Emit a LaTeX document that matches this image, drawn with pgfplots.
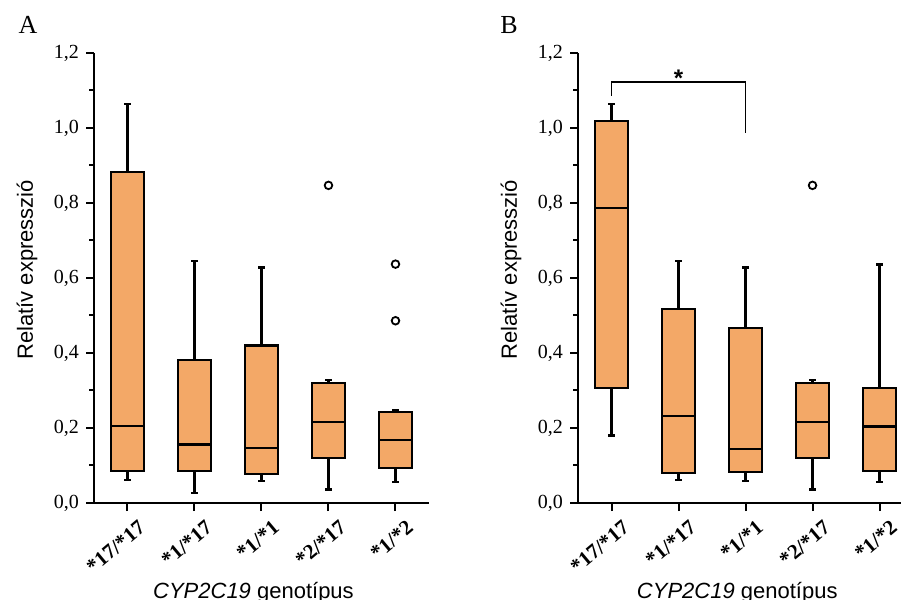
\documentclass[border=0pt]{standalone}
\usepackage{fontspec}
\setmainfont{Liberation Serif}
\setsansfont{Liberation Sans}
\usepackage{pgfplots}
\pgfplotsset{compat=1.18}
\usepgfplotslibrary{statistics}
\definecolor{boxfill}{HTML}{F3A867}

\pgfplotsset{
  panel/.style={
    scale only axis, height=225pt,
    axis x line*=bottom, axis y line*=left,
    ymin=0, ymax=1.2, ytick={0,0.2,...,1.2}, minor y tick num=1,
    xtick={0,...,4}, xticklabels={},
    tick align=outside, major tick length=4pt, minor tick length=2.5pt,
    yticklabel style={font=\fontsize{10}{12}\selectfont,
      /pgf/number format/.cd, fixed, fixed zerofill, precision=1, use comma, assume math mode=true},
    ylabel={Relatív expresszió},
    ylabel style={font=\sffamily\fontsize{11}{13}\selectfont, anchor=center},
    xlabel={\textit{CYP2C19} genotípus},
    xlabel style={font=\sffamily\fontsize{11}{13}\selectfont, anchor=base},
    axis line style={line width=1pt}, tick style={line width=1pt, black},
    clip=false,
    boxplot/draw direction=y,
    boxplot/box extend=0.5, boxplot/whisker extend=0.1,
    boxplot/every whisker/.style={line width=1.1pt, black},
    boxplot/every median/.style={line width=1.1pt, black},
    boxplot/every box/.style={line width=1.1pt, fill=boxfill},
  },
  bx/.style={black, line width=1.1pt, mark=o, mark size=1.9pt,
    mark options={fill=white, line width=0.9pt}},
}
\tikzset{cat/.style={rotate=40, anchor=north east, inner sep=0pt,
    font=\bfseries\fontsize{10.5}{12}\selectfont}}
\newcommand\catlabels{%
  \node[cat] at ([xshift=5pt,yshift=-8pt]axis cs:0,0) {*17/*17};
  \node[cat] at ([xshift=5pt,yshift=-8pt]axis cs:1,0) {*1/*17};
  \node[cat] at ([xshift=5pt,yshift=-8pt]axis cs:2,0) {*1/*1};
  \node[cat] at ([xshift=5pt,yshift=-8pt]axis cs:3,0) {*2/*17};
  \node[cat] at ([xshift=5pt,yshift=-8pt]axis cs:4,0) {*1/*2};
}

\begin{document}
\begin{tikzpicture}
\useasboundingbox (0,0) rectangle (450.5pt,300pt);
\node[font=\fontsize{13}{15}\selectfont] at (14pt,287.5pt) {A};
\node[font=\fontsize{13}{15}\selectfont] at (254.5pt,287.5pt) {B};

\begin{axis}[panel, at={(47pt,48.5pt)}, anchor=south west,
  width=167.5pt, xmin=-0.5, xmax=4.5,
  ylabel style={at={(axis description cs:-0.2,0.518)}},
  xlabel style={at={(axis description cs:0.476,0)}, yshift=-48pt}]
\addplot[bx, boxplot prepared={draw position=0, lower whisker=0.061, lower quartile=0.086,
  median=0.206, upper quartile=0.882, upper whisker=1.063}] coordinates {};
\addplot[bx, boxplot prepared={draw position=1, lower whisker=0.026, lower quartile=0.086,
  median=0.156, upper quartile=0.381, upper whisker=0.645}] coordinates {};
\addplot[bx, boxplot prepared={draw position=2, lower whisker=0.058, lower quartile=0.078,
  median=0.146, upper quartile=0.420, upper whisker=0.628}] coordinates {};
\addplot[bx, boxplot prepared={draw position=3, lower whisker=0.036, lower quartile=0.119,
  median=0.217, upper quartile=0.320, upper whisker=0.328}]
  table[row sep=\\, y index=0] {y\\ 0.847\\};
\addplot[bx, boxplot prepared={draw position=4, lower whisker=0.057, lower quartile=0.093,
  median=0.167, upper quartile=0.243, upper whisker=0.248}]
  table[row sep=\\, y index=0] {y\\ 0.637\\ 0.486\\};
\catlabels
\end{axis}

\begin{axis}[panel, at={(289pt,48.5pt)}, anchor=south west,
  width=162.5pt, xmin=-0.5, xmax=4.35,
  ylabel style={at={(axis description cs:-0.206,0.518)}},
  xlabel style={at={(axis description cs:0.49,0)}, yshift=-48pt}]
\addplot[bx, boxplot prepared={draw position=0, lower whisker=0.180, lower quartile=0.307,
  median=0.787, upper quartile=1.018, upper whisker=1.063}] coordinates {};
\addplot[bx, boxplot prepared={draw position=1, lower whisker=0.061, lower quartile=0.081,
  median=0.232, upper quartile=0.517, upper whisker=0.645}] coordinates {};
\addplot[bx, boxplot prepared={draw position=2, lower whisker=0.058, lower quartile=0.082,
  median=0.145, upper quartile=0.466, upper whisker=0.628}] coordinates {};
\addplot[bx, boxplot prepared={draw position=3, lower whisker=0.036, lower quartile=0.119,
  median=0.217, upper quartile=0.320, upper whisker=0.328}]
  table[row sep=\\, y index=0] {y\\ 0.847\\};
\addplot[bx, boxplot prepared={draw position=4, lower whisker=0.057, lower quartile=0.085,
  median=0.204, upper quartile=0.306, upper whisker=0.636}] coordinates {};
\catlabels
\draw[line width=0.9pt] (axis cs:0,1.086) -- (axis cs:0,1.122) -- (axis cs:2,1.122) -- (axis cs:2,0.987);
\node[font=\sffamily\bfseries\fontsize{12}{14}\selectfont, anchor=south, inner sep=1pt, yshift=-3.5pt] at (axis cs:1,1.122) {*};
\end{axis}
\end{tikzpicture}
\end{document}
